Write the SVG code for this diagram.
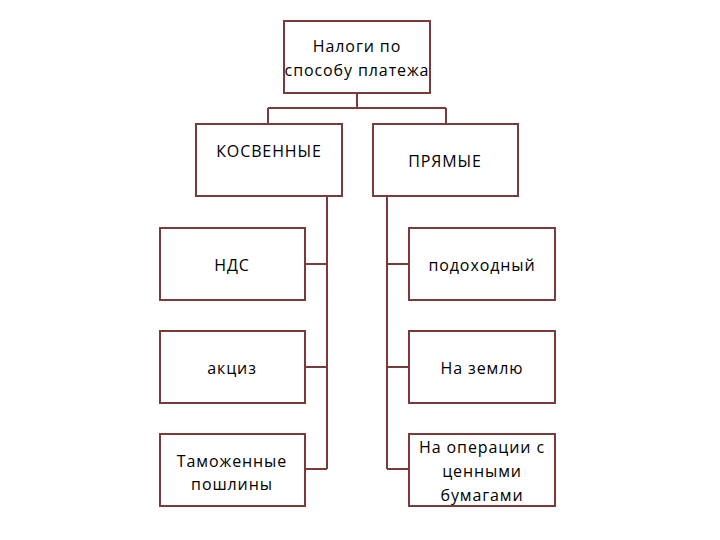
<svg xmlns="http://www.w3.org/2000/svg" width="720" height="540" viewBox="0 0 720 540">
<style>
.box{fill:#fff;stroke:#7a3a3a;stroke-width:2}
.ln{fill:none;stroke:#7a3a3a;stroke-width:2}
text{font-family:"Open Sans","Noto Sans",sans-serif;font-size:16px;letter-spacing:0.9px;fill:#000;text-anchor:middle}
</style>
<rect width="720" height="540" fill="#fff"/>
<g id="connectors">
<path class="ln" d="M357,93 V108 M268,108 H446 M268,108 V124 M446,108 V124"/>
<path class="ln" d="M327,196 V469 M305,264 H327 M305,367 H327 M305,469 H327"/>
<path class="ln" d="M387,196 V469 M387,264 H409 M387,367 H409 M387,469 H409"/>
</g>
<g id="root"><rect class="box" x="284" y="21" width="146" height="72"/><text x="357" y="52">Налоги по</text><text x="357" y="76">способу платежа</text></g>
<g id="kosv"><rect class="box" x="196" y="124" width="146" height="72"/><text x="269" y="157">КОСВЕННЫЕ</text></g>
<g id="pryam"><rect class="box" x="373" y="124" width="145" height="72"/><text x="445" y="167">ПРЯМЫЕ</text></g>
<g id="nds"><rect class="box" x="160" y="228" width="145" height="72"/><text x="232" y="271">НДС</text></g>
<g id="akciz"><rect class="box" x="160" y="331" width="145" height="72"/><text x="232" y="374">акциз</text></g>
<g id="tamozh"><rect class="box" x="160" y="434" width="145" height="72"/><text x="232" y="467">Таможенные</text><text x="232" y="490">пошлины</text></g>
<g id="podoh"><rect class="box" x="409" y="228" width="146" height="72"/><text x="482" y="271">подоходный</text></g>
<g id="zemlya"><rect class="box" x="409" y="331" width="146" height="72"/><text x="482" y="374">На землю</text></g>
<g id="oper"><rect class="box" x="409" y="434" width="146" height="72"/><text x="482" y="453">На операции с</text><text x="482" y="477">ценными</text><text x="482" y="501">бумагами</text></g>
</svg>
